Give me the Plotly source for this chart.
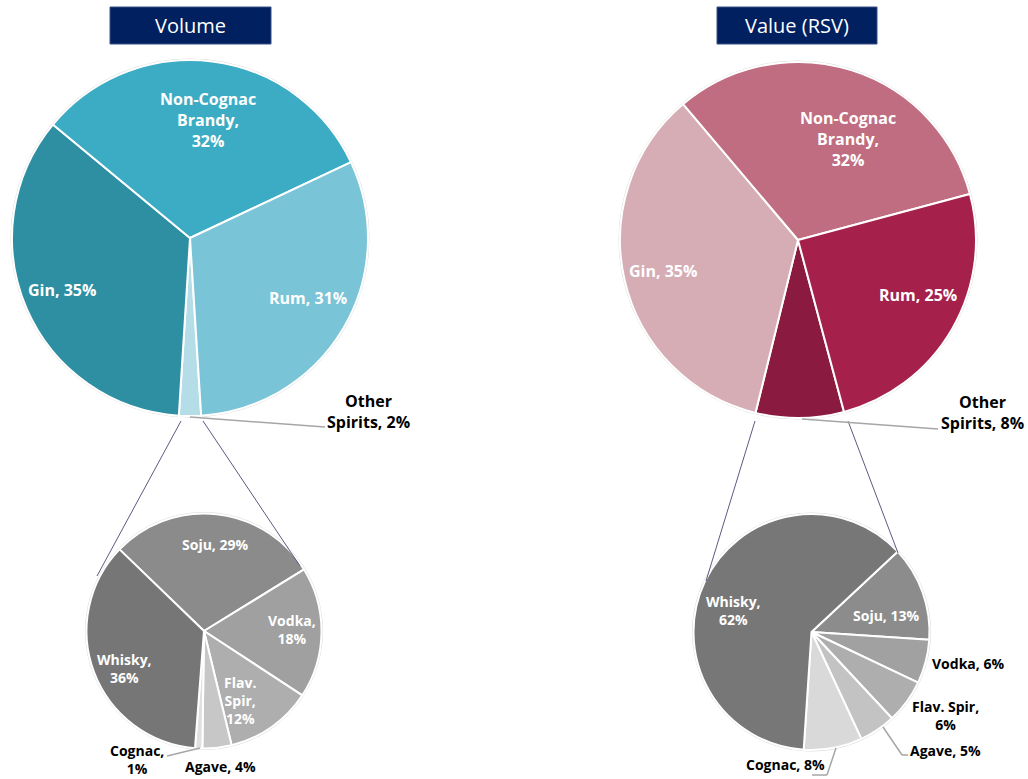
import plotly.graph_objects as go

W, H = 1028, 779

# ---------------- data ----------------
vol_labels = ["Other Spirits", "Gin", "Non-Cognac Brandy", "Rum"]
vol_values = [2, 35, 32, 31]
val_labels = ["Other Spirits", "Gin", "Non-Cognac Brandy", "Rum"]
val_values = [8, 35, 32, 25]

vol_other_labels = ["Soju", "Vodka", "Flav. Spir", "Agave", "Cognac", "Whisky"]
vol_other_values = [29, 18, 12, 4, 1, 36]
val_other_labels = ["Soju", "Vodka", "Flav. Spir", "Agave", "Cognac", "Whisky"]
val_other_values = [13, 6, 6, 5, 8, 62]

titles = ["Volume", "Value (RSV)"]

# ---------------- styles ----------------
vol_colors = ["#B4DDE8", "#2E8FA3", "#3BACC4", "#79C4D6"]
val_colors = ["#8B1A40", "#D6ADB5", "#C06D81", "#A6204C"]
vol_other_colors = ["#8B8B8B", "#A0A0A0", "#AEAEAE", "#C7C7C7", "#E0E0E0", "#767676"]
val_other_colors = ["#8C8C8C", "#A1A1A1", "#AEAEAE", "#C3C3C3", "#D9D9D9", "#777777"]

FONT = "Open Sans"
NAVY = "#002060"
CONN = "#5A5B82"
LEAD = "#A6A6A6"


def px(x, y):
    return x / W, 1 - y / H


def dom(cx, cy, r):
    return dict(x=[(cx - r) / W, (cx + r) / W], y=[1 - (cy + r) / H, 1 - (cy - r) / H])


def fmt(name, v, wrap_name=False, break_value=False):
    n = name.replace(" ", "<br>") if wrap_name else name
    sep = "<br>" if break_value else " "
    return f"<b>{n},{sep}{v}%</b>"


pies = [
    # labels, values, colors, center, radius, rotation
    (vol_labels, vol_values, vol_colors, (190, 238), 178, 176.4),
    (val_labels, val_values, val_colors, (798, 240), 178, 165.0),
    (vol_other_labels, vol_other_values, vol_other_colors, (204, 631), 117.5, -46.0),
    (val_other_labels, val_other_values, val_other_colors, (811.5, 632), 118, 47.0),
]

fig = go.Figure()
shapes = []
for labels, values, colors, (cx, cy), r, rot in pies:
    fig.add_trace(go.Pie(
        labels=labels, values=values, sort=False, direction="clockwise",
        rotation=rot, textinfo="none", hoverinfo="label+percent",
        marker=dict(colors=colors, line=dict(color="white", width=2)),
        domain=dom(cx, cy, r), showlegend=False,
    ))
    x0, y0 = px(cx - r - 1, cy + r + 1)
    x1, y1 = px(cx + r + 1, cy - r - 1)
    shapes.append(dict(type="circle", xref="paper", yref="paper", x0=x0, y0=y0,
                       x1=x1, y1=y1, line=dict(color="#D9D9D9", width=1), layer="below"))

# labels: (text, x, y, size, color)
ann_specs = [
    # Volume
    (fmt(vol_labels[2], vol_values[2], True, True), 208, 120, 16, "white"),
    (fmt(vol_labels[1], vol_values[1]), 62, 290, 16, "white"),
    (fmt(vol_labels[3], vol_values[3]), 308, 298, 16, "white"),
    (fmt(vol_labels[0], vol_values[0]).replace("Other Spirits", "Other<br>Spirits"), 368, 411, 16, "black"),
    # Value
    (fmt(val_labels[2], val_values[2], True, True), 848, 139, 16, "white"),
    (fmt(val_labels[1], val_values[1]), 663, 271, 16, "white"),
    (fmt(val_labels[3], val_values[3]), 918, 295, 16, "white"),
    (fmt(val_labels[0], val_values[0]).replace("Other Spirits", "Other<br>Spirits"), 982, 412, 16, "black"),
    # Volume other
    (fmt(vol_other_labels[0], vol_other_values[0]), 215, 544, 14, "white"),
    (fmt(vol_other_labels[1], vol_other_values[1], False, True), 292, 629, 14, "white"),
    (fmt(vol_other_labels[2], vol_other_values[2], True, True), 240, 700, 14, "white"),
    (fmt(vol_other_labels[5], vol_other_values[5], False, True), 124, 668, 14, "white"),
    (fmt(vol_other_labels[4], vol_other_values[4], False, True), 137, 759, 14, "black"),
    (fmt(vol_other_labels[3], vol_other_values[3]), 220, 766, 14, "black"),
    # Value other
    (fmt(val_other_labels[5], val_other_values[5], False, True), 733, 610, 14, "white"),
    (fmt(val_other_labels[0], val_other_values[0]), 886, 615, 14, "white"),
    (fmt(val_other_labels[1], val_other_values[1]), 968, 663, 14, "black"),
    (fmt(val_other_labels[2], val_other_values[2], False, True), 945, 715, 14, "black"),
    (fmt(val_other_labels[3], val_other_values[3]), 945, 750, 14, "black"),
    (fmt(val_other_labels[4], val_other_values[4]), 785, 764, 14, "black"),
]

annotations = []
for text, x, y, size, color in ann_specs:
    ax, ay = px(x, y)
    annotations.append(dict(text=text, x=ax, y=ay, xref="paper", yref="paper",
                            xanchor="center", yanchor="middle", align="center",
                            showarrow=False, font=dict(family=FONT, size=size, color=color)))

# title boxes
for title, (bx0, bx1) in zip(titles, [(110, 271), (717, 877)]):
    x0, y0 = px(bx0, 44)
    x1, y1 = px(bx1, 7)
    shapes.append(dict(type="rect", xref="paper", yref="paper", x0=x0, y0=y0, x1=x1, y1=y1,
                       fillcolor=NAVY, line=dict(color="#3A4E85", width=1), layer="above"))
    tx, ty = px((bx0 + bx1) / 2, 25.5)
    annotations.append(dict(text=title, x=tx, y=ty, xref="paper", yref="paper",
                            xanchor="center", yanchor="middle", showarrow=False,
                            font=dict(family=FONT, size=20, color="white")))


def seg(p, q, color, width):
    x0, y0 = px(*p)
    x1, y1 = px(*q)
    return dict(type="line", xref="paper", yref="paper", x0=x0, y0=y0, x1=x1, y1=y1,
                line=dict(color=color, width=width), layer="above")


# pie-of-pie connectors
shapes += [
    seg((181, 421), (97, 576), CONN, 1),
    seg((203, 421), (300, 566), CONN, 1),
    seg((755, 421), (706, 581), CONN, 1),
    seg((848, 421), (898, 553), CONN, 1),
]
# leader lines
shapes += [
    seg((190, 417), (325, 427), LEAD, 1.5),
    seg((802, 419), (938, 429), LEAD, 1.5),
    seg((200, 748), (167, 756), LEAD, 1.5),
    seg((883, 727), (902, 755), LEAD, 1.5),
    seg((902, 755), (908, 755), LEAD, 1.5),
    seg((836, 748), (827, 775), LEAD, 1.5),
    seg((827, 775), (812, 775), LEAD, 1.5),
]

fig.update_layout(
    width=W, height=H, autosize=False,
    margin=dict(l=0, r=0, t=0, b=0),
    paper_bgcolor="white", plot_bgcolor="white",
    shapes=shapes, annotations=annotations,
    font=dict(family=FONT),
)

fig.write_html(
    "out.html",
    config={"displayModeBar": False},
    post_script="document.body.style.margin='0';document.body.style.overflow='hidden';",
)
